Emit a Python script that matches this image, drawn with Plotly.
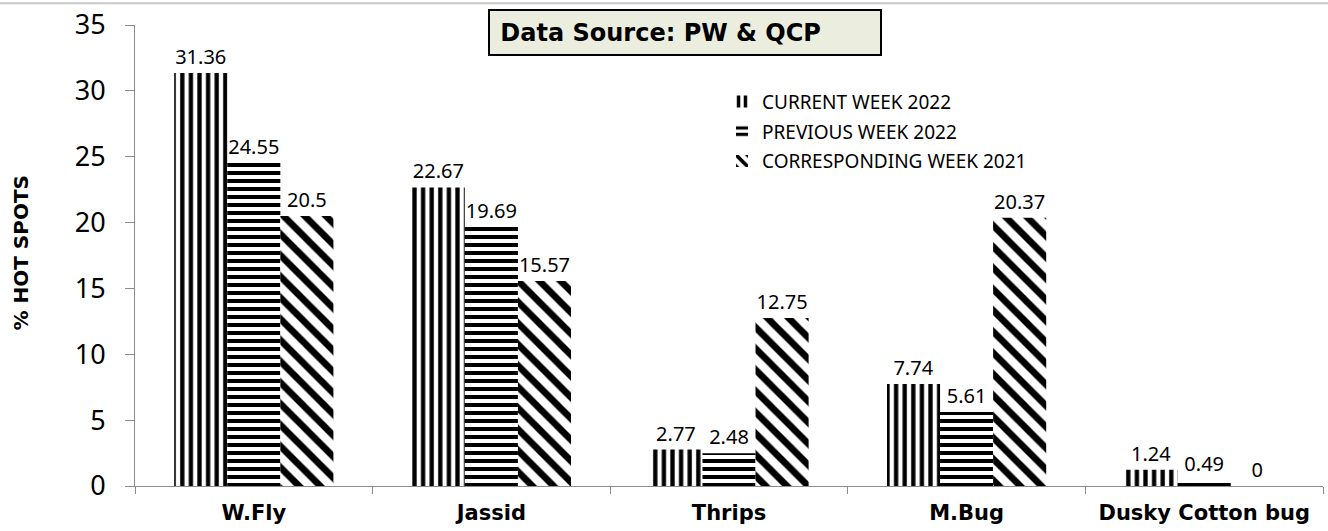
import plotly.graph_objects as go

categories = ["W.Fly", "Jassid", "Thrips", "M.Bug", "Dusky Cotton bug"]
current_2022 = [31.36, 22.67, 2.77, 7.74, 1.24]
previous_2022 = [24.55, 19.69, 2.48, 5.61, 0.49]
corresponding_2021 = [20.5, 15.57, 12.75, 20.37, 0]
series_names = ["CURRENT WEEK 2022", "PREVIOUS WEEK 2022", "CORRESPONDING WEEK 2021"]

REG = "Noto Sans"
BOLD = "DejaVu Sans"
W, H = 1328, 531
ML, MR, MT, MB = 135, 5, 22, 45
PW = W - ML - MR
PH = H - MT - MB

fig = go.Figure()
patterns = [("|", 8.6, 0.5), ("-", 8, 0.5), ("\\", 15, 0.45)]
for i, (name, vals, (shape, size, sol)) in enumerate(zip(
        series_names, [current_2022, previous_2022, corresponding_2021], patterns)):
    fig.add_trace(go.Bar(
        name=name, x=categories, y=vals, legendgroup=f"g{i}",
        text=[f"{v:g}" for v in vals], textposition="outside",
        textfont=dict(family=REG, size=20, color="black"),
        cliponaxis=False,
        marker=dict(color="white", line=dict(width=0),
                    pattern=dict(shape=shape, size=size, solidity=sol,
                                 fgcolor="black", fgopacity=1, bgcolor="white",
                                 fillmode="overlay")),
    ))

fig.update_layout(
    width=W, height=H, barmode="group", bargap=0.33, bargroupgap=0,
    margin=dict(l=ML, r=MR, t=MT, b=MB),
    plot_bgcolor="white", paper_bgcolor="white",
    font=dict(family=REG, color="black"),
    legend=dict(x=(722 - ML) / PW, y=(486 - 80) / PH, xanchor="left", yanchor="top",
                font=dict(family=REG, size=19), bgcolor="rgba(0,0,0,0)",
                itemwidth=30, traceorder="grouped", tracegroupgap=2),
    xaxis=dict(showline=True, linecolor="#8c8c8c", linewidth=1,
               ticks="outside", tickson="boundaries", ticklen=7, tickcolor="#8c8c8c",
               ticklabelstandoff=8,
               tickfont=dict(family=BOLD, size=21, color="black", weight="bold"),
               showgrid=False),
    yaxis=dict(range=[0, 35], dtick=5, showline=True, linecolor="#8c8c8c", linewidth=1,
               ticks="outside", ticklen=9, tickcolor="#8c8c8c", showgrid=False,
               zeroline=False, ticklabelstandoff=14,
               tickfont=dict(family=REG, size=27, color="black")),
    annotations=[
        dict(text="<b>% HOT SPOTS</b>", xref="paper", yref="paper",
             x=(21 - ML) / PW, y=(486 - 252) / PH, textangle=-90, showarrow=False,
             xanchor="center", yanchor="middle",
             font=dict(family=BOLD, size=20, color="black")),
        dict(text="<b>&nbsp;Data Source: PW & QCP</b>", xref="paper", yref="paper",
             x=(685 - ML) / PW, y=(486 - 29.5) / PH, showarrow=False,
             width=386, height=39, borderpad=2, borderwidth=2, bordercolor="black",
             bgcolor="#EBEEDF", align="left", valign="middle",
             xanchor="center", yanchor="middle",
             font=dict(family=BOLD, size=24, color="black")),
    ],
    shapes=[dict(type="line", xref="paper", yref="paper",
                 x0=-ML / PW, x1=1 + MR / PW, y0=1 + MT / PH, y1=1 + MT / PH,
                 line=dict(color="#c8c8c8", width=2))],
)

fig.write_html("out.html", config={"displayModeBar": False},
               post_script="document.body.style.margin='0px';")
